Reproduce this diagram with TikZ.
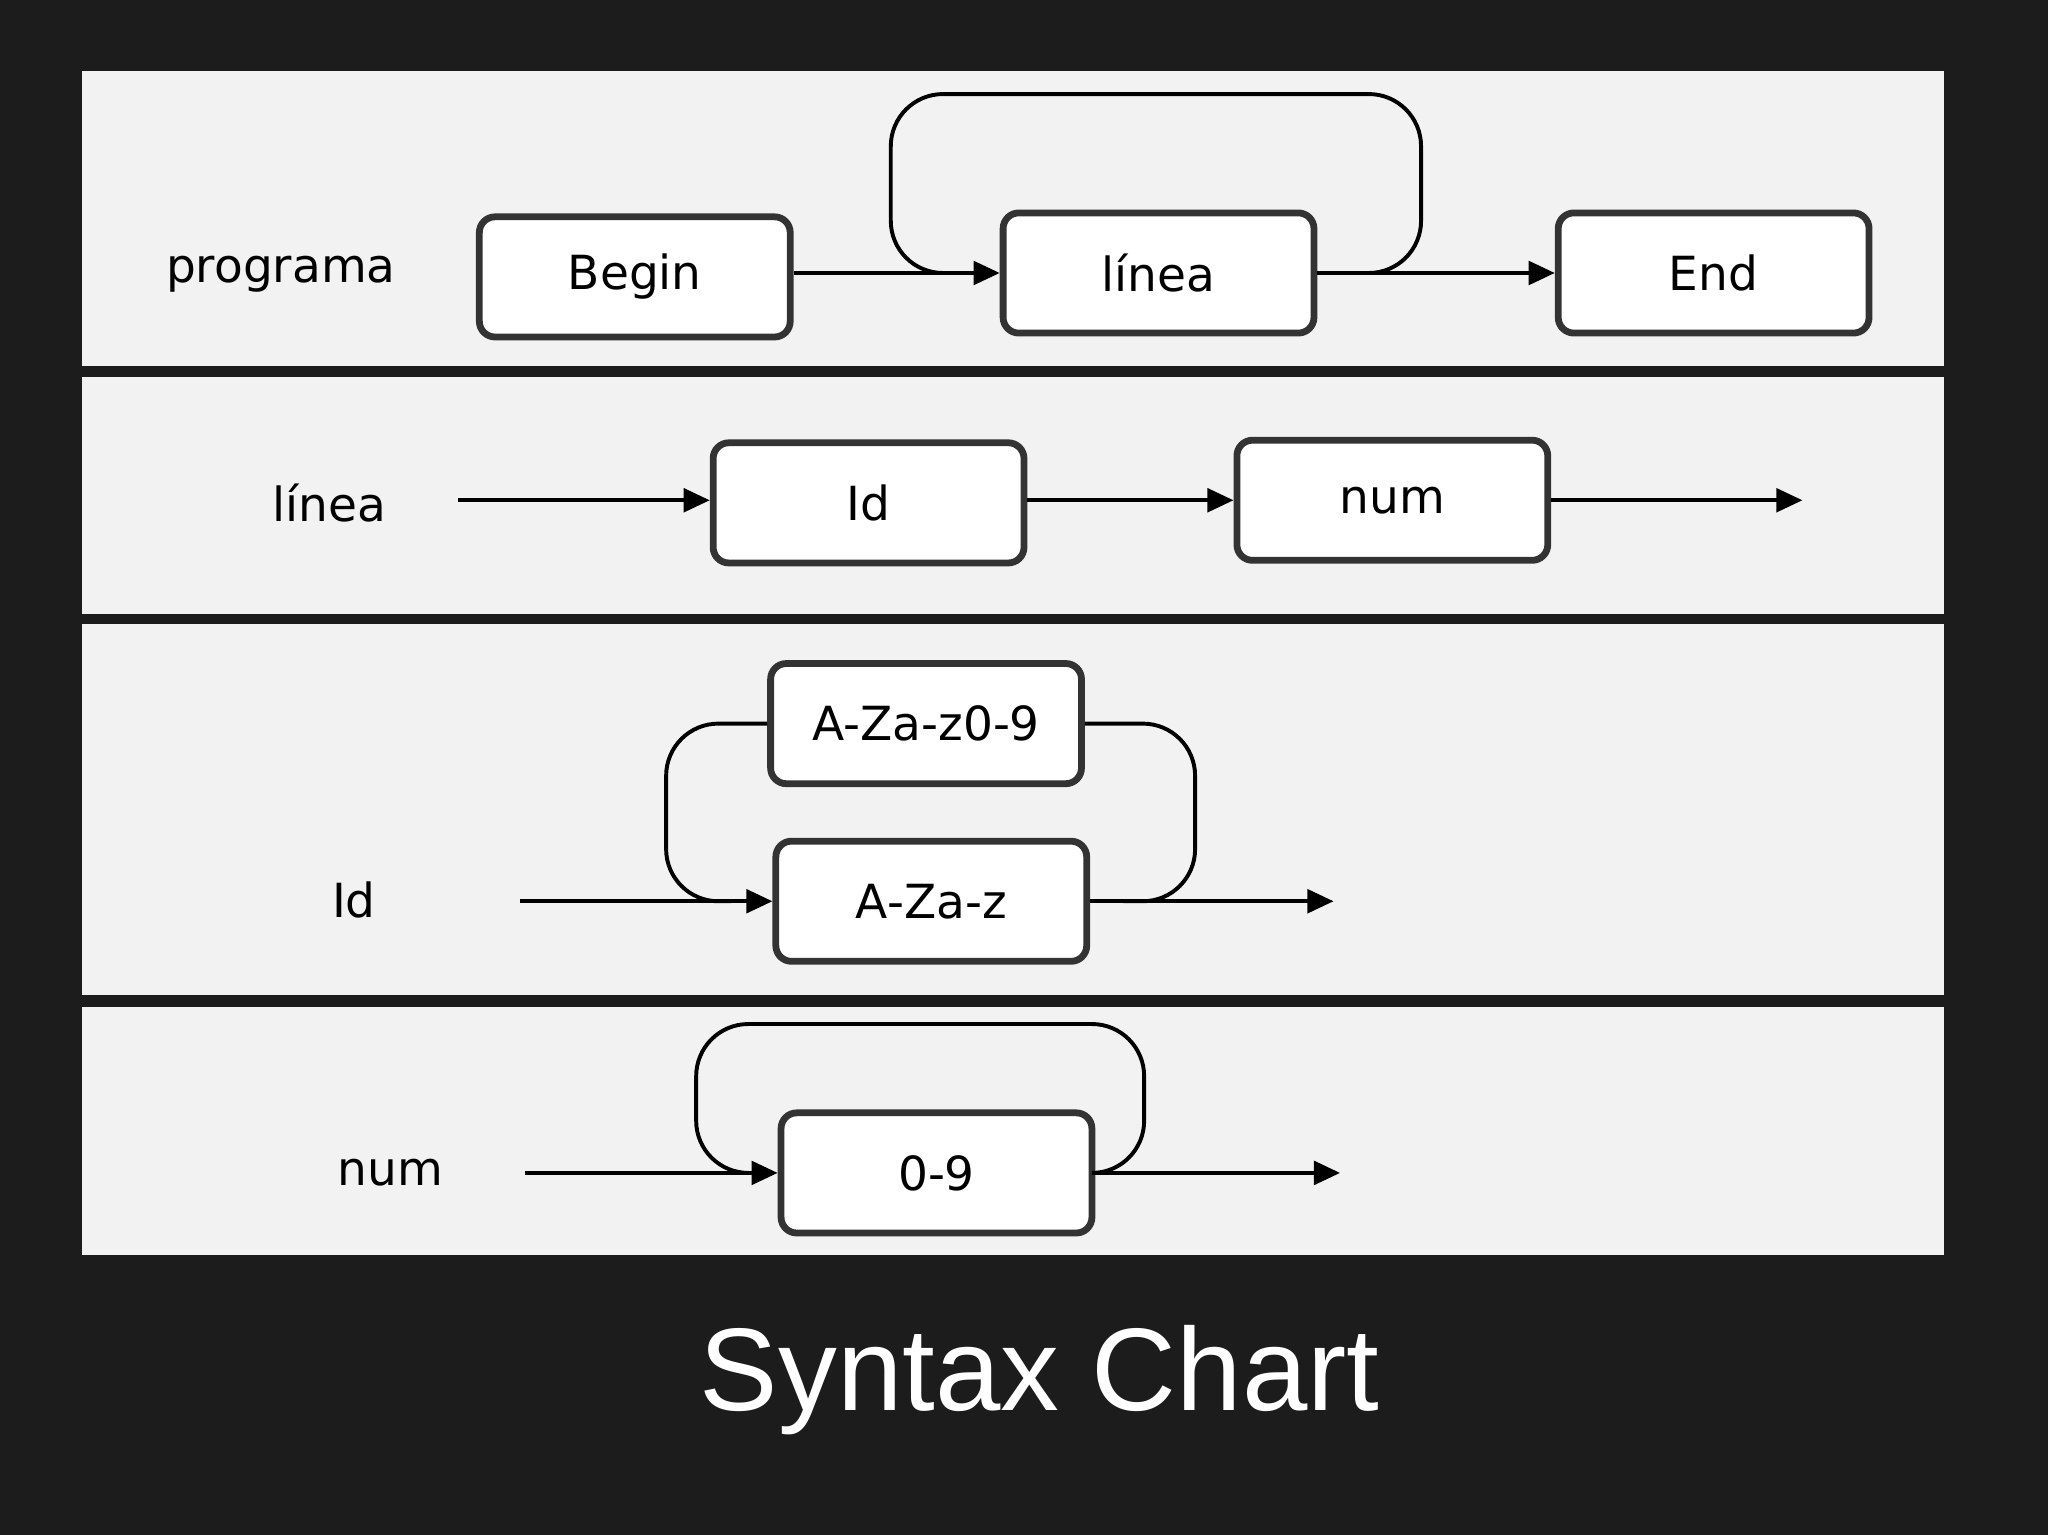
\documentclass[tikz,border=0pt]{standalone}
\usepackage{fontspec}
\setmainfont{DejaVu Sans}
\newfontfamily\titlefont{Liberation Sans}
\usetikzlibrary{arrows.meta}
\definecolor{bgdark}{HTML}{1C1C1C}
\definecolor{panel}{HTML}{F2F2F2}
\definecolor{bord}{HTML}{333333}
\tikzset{
  tok/.style={draw=bord,line width=2.6pt,fill=white,rounded corners=6pt,minimum width=119pt,minimum height=46pt,inner sep=0pt,font=\fontsize{18}{20}\selectfont},
  lbl/.style={font=\fontsize{18}{20}\selectfont},
  conn/.style={line width=1.5pt},
  arr/.style={line width=1.5pt,-{Triangle[length=10pt,width=9pt]}},
  loop/.style={line width=1.5pt,rounded corners=20pt}
}
\begin{document}
\begin{tikzpicture}[x=0.5pt,y=-0.5pt]
\useasboundingbox (0,0) rectangle (1568,1175);
\fill[bgdark] (0,0) rectangle (1568,1175);
\fill[panel] (63,54) rectangle (1488,280);
\fill[panel] (63,289) rectangle (1488,470);
\fill[panel] (63,478) rectangle (1488,762);
\fill[panel] (63,771) rectangle (1488,961);
% row 1
\node[lbl] (lp) at (215,210) {programa};
\node[tok] (begin) at (486,212) {Begin};
\node[tok] (linea) at (887,209) {línea};
\node[tok] (end) at (1312,209) {End};
\draw[loop] (linea.east) -| (1088,72) -| (682,209) -- (720,209);
\draw[arr] (begin.east |- linea.west) -- (linea.west);
\draw[arr] (linea.east) -- (end.west);
% row 2
\node[lbl] (ll) at (252,385) {línea};
\coordinate (l2s) at (351,383);
\coordinate (l2e) at (1380,383);
\node[tok] (id) at (665,385) {Id};
\node[tok] (num) at (1066,383) {num};
\draw[arr] (l2s) -- (l2s -| id.west);
\draw[arr] (id.east |- num.west) -- (num.west);
\draw[arr] (num.east) -- (l2e);
% row 3
\node[lbl] (li) at (271,689) {Id};
\node[tok] (azd) at (709,554) {A-Za-z0-9};
\node[tok] (az) at (713,690) {A-Za-z};
\coordinate (l3s) at (398,690);
\coordinate (l3e) at (1021,690);
\draw[loop] (azd.east) -| (915,690) -- (860,690);
\draw[loop] (azd.west) -| (510,690) -- (560,690);
\draw[arr] (l3s) -- (az.west);
\draw[arr] (az.east) -- (l3e);
% row 4
\node[lbl] (ln) at (299,898) {num};
\node[tok] (dig) at (717,898) {0-9};
\coordinate (l4s) at (402,898);
\coordinate (l4e) at (1026,898);
\draw[loop] (dig.east) -| (876,784) -| (533,898) -- (570,898);
\draw[arr] (l4s) -- (dig.west);
\draw[arr] (dig.east) -- (l4e);
% title
\node[text=white,font=\titlefont\fontsize{45}{50}\selectfont] (title) at (796,1057) {Syntax Chart};
\end{tikzpicture}
\end{document}
